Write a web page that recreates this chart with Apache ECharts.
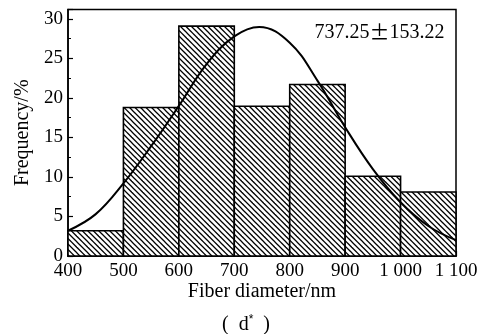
<!DOCTYPE html>
<html>
<head>
<meta charset="utf-8">
<script src="https://cdn.jsdelivr.net/npm/echarts@6/dist/echarts.min.js"></script>
<style>
html,body{margin:0;padding:0;background:#fff;}
#chart{width:492px;height:334px;}
</style>
</head>
<body>
<div id="chart"></div>
<script>
// Histogram bins (nm) and frequency (%)
var binStarts = [400, 500, 600, 700, 800, 900, 1000];
var binEnds   = [500, 600, 700, 800, 900, 1000, 1100];
var frequency = [3.2, 18.8, 29.1, 18.95, 21.7, 10.1, 8.1];

// Fitted curve
var curveX = [400, 450, 500, 550, 600, 650, 700, 745, 800, 850, 900, 950, 1000, 1050, 1100];
var curveY = [3.2, 5.3, 9.2, 13.9, 19.0, 24.3, 27.8, 29.0, 27.0, 22.2, 16.3, 11.0, 6.8, 3.8, 2.0];

var xTicks = [400, 500, 600, 700, 800, 900, 1000, 1100];
var annotationMean = '737.25';
var annotationSd = '153.22';

var FONT = '"Liberation Serif", "Times New Roman", serif';

function makeHatch() {
  var s = 11;
  var c = document.createElement('canvas');
  c.width = s; c.height = s;
  var g = c.getContext('2d');
  g.fillStyle = '#fff';
  g.fillRect(0, 0, s, s);
  g.strokeStyle = '#000';
  g.lineWidth = 1.25;
  var offs = [-11, -5.5, 0, 5.5, 11];
  for (var i = 0; i < offs.length; i++) {
    g.beginPath();
    g.moveTo(offs[i] - 1, -1);
    g.lineTo(offs[i] + s + 1, s + 1);
    g.stroke();
  }
  return c;
}
var hatch = makeHatch();

var histData = binStarts.map(function (s, i) { return [s, binEnds[i], frequency[i]]; });
var curveData = curveX.map(function (x, i) { return [x, curveY[i]]; });

var chart = echarts.init(document.getElementById('chart'), null, {renderer: 'canvas'});
chart.setOption({
  animation: false,
  backgroundColor: '#fff',
  grid: {left: 68, right: 36, top: 9.5, bottom: 78, show: true, borderColor: '#000', borderWidth: 1.5, backgroundColor: 'transparent'},
  xAxis: {
    type: 'value', min: 400, max: 1100, interval: 100,
    name: 'Fiber diameter/nm', nameLocation: 'middle', nameGap: 26, nameMoveOverlap: false,
    nameTextStyle: {fontFamily: FONT, fontSize: 20, color: '#000'},
    axisLine: {show: true, onZero: false, lineStyle: {color: '#000', width: 1.5}},
    axisTick: {show: true, inside: true, length: 5, lineStyle: {color: '#000', width: 1.2}},
    splitLine: {show: false},
    axisLabel: {
      fontFamily: FONT, fontSize: 19, color: '#000', margin: 6,
      formatter: function (v) { return v >= 1000 ? String(v).replace(/^(\d)(\d{3})$/, '$1 $2') : String(v); }
    }
  },
  yAxis: {
    type: 'value', min: 0, max: 31.2, interval: 5,
    name: 'Frequency/%', nameLocation: 'middle', nameGap: 35, nameRotate: 90, nameMoveOverlap: false,
    nameTextStyle: {fontFamily: FONT, fontSize: 20, color: '#000'},
    axisLine: {show: true, lineStyle: {color: '#000', width: 1.5}},
    axisTick: {show: true, inside: true, length: 5, lineStyle: {color: '#000', width: 1.2}},
    minorTick: {show: true, splitNumber: 2, length: 3, lineStyle: {color: '#000', width: 1}},
    splitLine: {show: false},
    axisLabel: {fontFamily: FONT, fontSize: 19, color: '#000', margin: 5, showMaxLabel: false,
      formatter: function (v) { return (v % 5 === 0) ? String(v) : ''; }}
  },
  graphic: [{
    type: 'text', left: 'center', top: 314,
    style: {
      text: '(  d{s|*}  )',
      rich: {s: {fontSize: 12, verticalAlign: 'top', padding: [0, 0, 10, 0]}},
      font: '20px ' + FONT, fill: '#000'
    }
  }],
  series: [{
    type: 'custom',
    data: histData,
    encode: {x: [0, 1], y: 2},
    renderItem: function (params, api) {
      var p0 = api.coord([api.value(0), api.value(2)]);
      var p1 = api.coord([api.value(1), 0]);
      return {
        type: 'rect',
        shape: {x: p0[0], y: p0[1], width: p1[0] - p0[0], height: p1[1] - p0[1]},
        style: {fill: {image: hatch, repeat: 'repeat'}, stroke: '#000', lineWidth: 1.6}
      };
    },
    z: 2
  }, {
    type: 'line',
    data: curveData,
    smooth: 0.4,
    showSymbol: false,
    lineStyle: {color: '#000', width: 2},
    z: 3,
    markPoint: {
      symbol: 'rect', symbolSize: 0,
      label: {
        show: true, position: 'inside',
        formatter: annotationMean + '{pm|\u00B1}' + annotationSd,
        fontFamily: FONT, fontSize: 20, color: '#000',
        rich: {pm: {fontFamily: '"Noto Sans CJK SC"', fontSize: 20, color: '#000'}}
      },
      data: [{coord: [962, 28.3]}]
    }
  }]
});
</script>
</body>
</html>
